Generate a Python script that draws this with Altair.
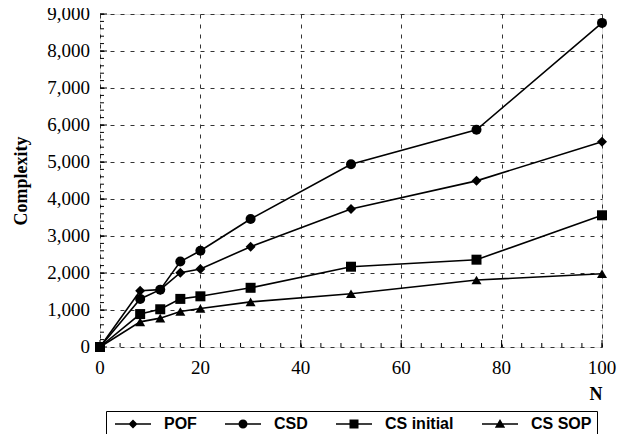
import altair as alt
import pandas as pd

# ---- data ----
n_values = [0, 8, 12, 16, 20, 30, 50, 75, 100]
pof = [0, 1520, 1550, 2010, 2110, 2710, 3730, 4490, 5550]
csd = [0, 1300, 1550, 2310, 2600, 3460, 4940, 5870, 8760]
cs_initial = [0, 890, 1020, 1300, 1370, 1600, 2170, 2360, 3560]
cs_sop = [0, 680, 780, 960, 1040, 1220, 1440, 1810, 1980]
series_names = ["POF", "CSD", "CS initial", "CS SOP"]

y_major = list(range(0, 9001, 1000))
y_minor = list(range(0, 9001, 200))
x_major = [0, 20, 40, 60, 80, 100]
x_minor = list(range(0, 101, 4))

rows = []
for name, vals in zip(series_names, [pof, csd, cs_initial, cs_sop]):
    for n, v in zip(n_values, vals):
        rows.append({"N": n, "Complexity": v, "series": name})
df = pd.DataFrame(rows)

marker_shapes = ["diamond", "circle", "square", "triangle-up"]
bar = "M-4,-0.17H4V0.17H-4Z "
legend_paths = [
    bar + "M0,-1L1,0L0,1L-1,0Z",
    bar + "M-1,0A1,1 0 1,1 1,0A1,1 0 1,1 -1,0Z",
    bar + "M-1,-1H1V1H-1Z",
    bar + "M0,-1.1L1.15,0.85L-1.15,0.85Z",
]

SERIF = "Liberation Serif"
SANS = "Liberation Sans"

x_enc = alt.X(
    "N:Q",
    scale=alt.Scale(domain=[0, 100], nice=False),
    axis=alt.Axis(
        values=x_major, title="N", ticks=False, domain=False, labels=False,
        titleAnchor="end", titleAlign="right", titleBaseline="alphabetic", titleY=52,
    ),
)
y_enc = alt.Y(
    "Complexity:Q",
    scale=alt.Scale(domain=[0, 9000], nice=False),
    axis=alt.Axis(
        values=y_major, title="Complexity", ticks=False, domain=False, labels=False,
        titleBaseline="middle", titleX=-79,
    ),
)

base = alt.Chart(df)

lines = base.mark_line(color="black", strokeWidth=1.6).encode(
    x=x_enc, y=y_enc, detail="series:N"
)

points = base.mark_point(filled=True, color="black", opacity=1, size=100).encode(
    x=x_enc, y=y_enc,
    shape=alt.Shape("series:N", scale=alt.Scale(domain=series_names, range=marker_shapes), legend=None),
)

legend_layer = base.transform_filter("false").mark_point(filled=True, color="black", opacity=1).encode(
    x=x_enc, y=y_enc,
    shape=alt.Shape(
        "series:N",
        scale=alt.Scale(domain=series_names, range=legend_paths),
        legend=alt.Legend(
            title=None, orient="none", legendX=6, legendY=397, direction="horizontal",
            strokeColor="black", padding=5, fillColor="white",
            symbolSize=81, symbolOffset=14, labelOffset=23, columnPadding=24,
            symbolFillColor="black", symbolStrokeWidth=0, symbolOpacity=1,
            labelFont=SANS, labelFontWeight="bold", labelFontSize=16, labelColor="black",
        ),
    ),
)

ydf = pd.DataFrame({"Complexity": y_minor})
ydf_major = pd.DataFrame({"Complexity": y_major})
xdf = pd.DataFrame({"N": x_minor})
xdf_major = pd.DataFrame({"N": x_major})

y_ticks_minor = alt.Chart(ydf).mark_rule(color="black", strokeWidth=1).encode(
    y=y_enc, x=alt.value(0), x2=alt.value(4)
)
y_ticks_major = alt.Chart(ydf_major).mark_rule(color="black", strokeWidth=1).encode(
    y=y_enc, x=alt.value(0), x2=alt.value(7)
)
x_ticks_minor = alt.Chart(xdf).mark_rule(color="black", strokeWidth=1).encode(
    x=x_enc, y=alt.value(333), y2=alt.value(329)
)
x_ticks_major = alt.Chart(xdf_major).mark_rule(color="black", strokeWidth=1).encode(
    x=x_enc, y=alt.value(333), y2=alt.value(326)
)

y_labels = alt.Chart(ydf_major).mark_text(
    align="right", baseline="middle", font=SERIF, fontSize=19, color="black"
).encode(
    y=y_enc, x=alt.value(-10), text=alt.Text("Complexity:Q", format=",d")
)
x_labels = alt.Chart(xdf_major).mark_text(
    align="center", baseline="top", font=SERIF, fontSize=19, color="black"
).encode(
    x=x_enc, y=alt.value(345), text=alt.Text("N:Q", format="d")
)

chart = alt.layer(
    y_ticks_minor, y_ticks_major, x_ticks_minor, x_ticks_major,
    y_labels, x_labels,
    lines, points, legend_layer,
).resolve_scale(shape="independent").properties(
    width=502, height=333,
    autosize=alt.AutoSizeParams(type="none"),
    padding={"left": 92, "top": 6, "right": 18, "bottom": 87},
).configure_view(stroke="black", strokeWidth=1.5).configure(
    background="white"
).configure_axis(
    titleFont=SERIF, titleFontSize=18, titleFontWeight="bold", titleColor="black",
    grid=True, gridDash=[4, 6], gridColor="#333333", gridWidth=1,
)

chart.save("out.html", embed_options={"renderer": "svg", "actions": False})
